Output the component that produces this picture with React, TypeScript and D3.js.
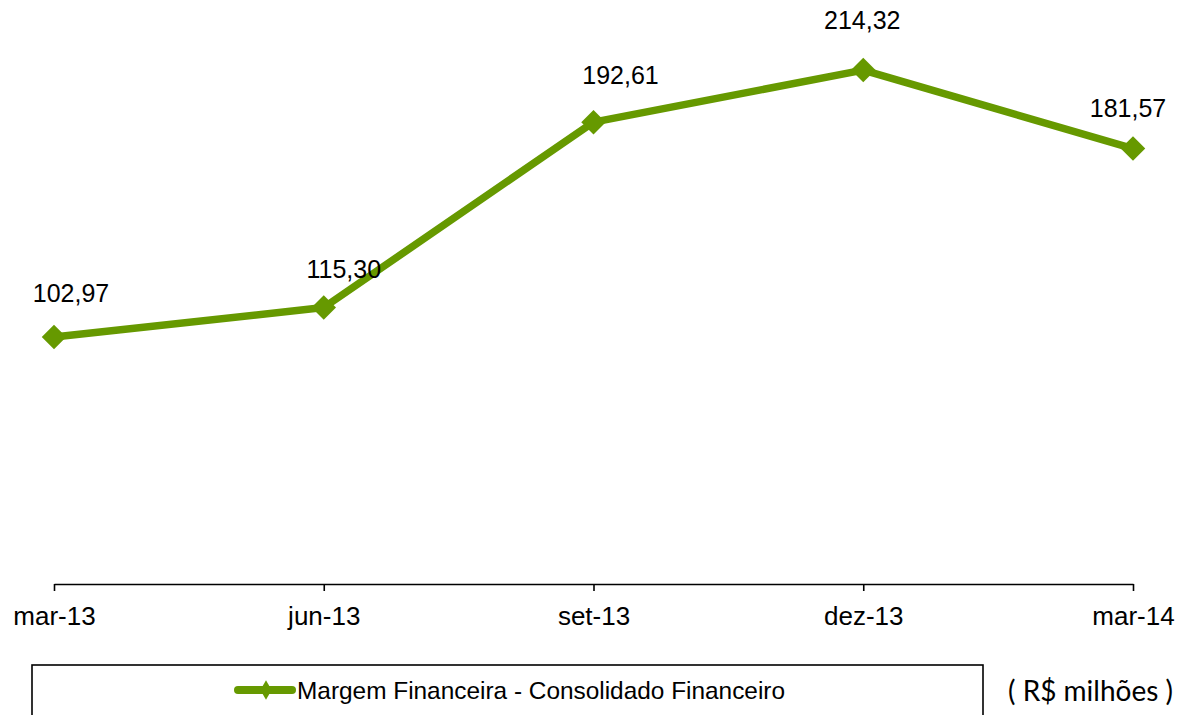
import { useEffect, useRef } from 'react';
import * as d3 from 'd3';

const categories = ['mar-13', 'jun-13', 'set-13', 'dez-13', 'mar-14'];
const values = [102.97, 115.3, 192.61, 214.32, 181.57];
const seriesName = 'Margem Financeira - Consolidado Financeiro';
const unitNote = '( R$ milhões )';

// manual label nudges (Excel-style hand placed labels)
const labelNudge = [
  [17, -35],
  [20, -30],
  [27, -38],
  [-1, -41],
  [-5, -32],
];

const GREEN = '#669900';
const fmt = (v: number) => v.toFixed(2).replace('.', ',');

export default function App() {
  const ref = useRef<SVGSVGElement>(null);

  useEffect(() => {
    const svg = d3.select(ref.current);
    svg.selectAll('*').remove();

    const x = d3.scalePoint<string>().domain(categories).range([54, 1133]).padding(0);
    const y = d3.scaleLinear().domain([0, 240]).range([584, 8.5]);

    // axis
    const axis = svg.append('g').attr('transform', `translate(0,${y(0)})`);
    axis
      .call(d3.axisBottom(x).tickSize(7).tickSizeOuter(0).tickPadding(10))
      .call(g => g.select('.domain').attr('stroke', '#000').attr('stroke-width', 1.6))
      .call(g => g.selectAll('.tick line').attr('stroke', '#000').attr('stroke-width', 1.6))
      .call(g =>
        g
          .selectAll('.tick text')
          .attr('font-family', 'Liberation Sans, Arial, sans-serif')
          .attr('font-size', 26)
          .attr('fill', '#000')
          .attr('dy', '0.71em')
          .attr('y', 23)
      );

    const pts = categories.map((c, i) => ({ c, v: values[i], i }));

    const line = d3
      .line<{ c: string; v: number }>()
      .x(d => x(d.c)!)
      .y(d => y(d.v));

    svg
      .append('path')
      .datum(pts)
      .attr('fill', 'none')
      .attr('stroke', GREEN)
      .attr('stroke-width', 7.5)
      .attr('stroke-linejoin', 'round')
      .attr('d', line);

    const diamond = d3.symbol().type(d3.symbolSquare).size(300);
    svg
      .append('g')
      .selectAll('path')
      .data(pts)
      .join('path')
      .attr('d', diamond)
      .attr('fill', GREEN)
      .attr('transform', d => `translate(${x(d.c)},${y(d.v)}) rotate(45)`);

    svg
      .append('g')
      .selectAll('text')
      .data(pts)
      .join('text')
      .attr('x', d => x(d.c)! + labelNudge[d.i][0])
      .attr('y', d => y(d.v) + labelNudge[d.i][1])
      .attr('text-anchor', 'middle')
      .attr('font-family', 'Liberation Sans, Arial, sans-serif')
      .attr('font-size', 25)
      .attr('fill', '#000')
      .text(d => fmt(d.v));

    // legend
    const lg = svg.append('g');
    lg.append('rect')
      .attr('x', 32)
      .attr('y', 665)
      .attr('width', 951)
      .attr('height', 60)
      .attr('fill', '#fff')
      .attr('stroke', '#000')
      .attr('stroke-width', 1.6);
    lg.append('line')
      .attr('x1', 238)
      .attr('x2', 292)
      .attr('y1', 690)
      .attr('y2', 690)
      .attr('stroke', GREEN)
      .attr('stroke-width', 8)
      .attr('stroke-linecap', 'round');
    lg.append('path')
      .attr('d', d3.symbol().type(d3.symbolDiamond).size(110)())
      .attr('fill', GREEN)
      .attr('transform', 'translate(266,690)');
    lg.append('text')
      .attr('x', 297)
      .attr('y', 699)
      .attr('font-family', 'Liberation Sans, Arial, sans-serif')
      .attr('font-size', 24.4)
      .attr('fill', '#000')
      .text(seriesName);

    svg
      .append('text')
      .attr('x', 1008)
      .attr('y', 701)
      .attr('font-family', 'Lato, Open Sans, sans-serif')
      .attr('font-size', 28)
      .attr('fill', '#000')
      .text(unitNote);
  }, []);

  return (
    <svg
      ref={ref}
      width={1189}
      height={715}
      style={{ position: 'absolute', left: 0, top: 0, background: '#fff' }}
    />
  );
}
